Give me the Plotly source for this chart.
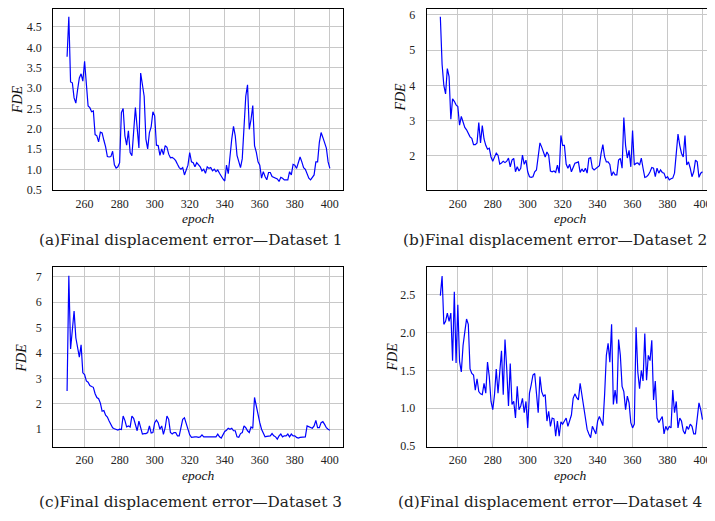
import plotly.graph_objects as go

# ---------------- data ----------------
epochs = list(range(250, 401))

fde_dataset1 = [
    3.77, 4.75, 3.15, 3.13, 2.76, 2.63, 2.96, 3.25, 3.35, 3.17,
    3.66, 3.05, 2.56, 2.52, 2.42, 2.44, 1.86, 1.83, 1.68, 1.92,
    1.90, 1.72, 1.56, 1.32, 1.31, 1.32, 1.45, 1.12, 1.04, 1.07,
    1.17, 2.40, 2.50, 1.83, 1.60, 1.95, 1.42, 1.34, 1.90, 2.52,
    2.03, 1.53, 3.37, 3.12, 2.80, 1.75, 1.51, 1.91, 2.05, 2.42,
    2.32, 1.60, 1.59, 1.35, 1.51, 1.37, 1.59, 1.55, 1.38, 1.29,
    1.30, 1.27, 1.22, 1.13, 1.05, 1.01, 1.05, 0.87, 0.99, 1.11,
    1.42, 1.19, 1.17, 1.07, 1.17, 1.11, 1.07, 0.97, 1.01, 0.91,
    1.07, 1.03, 1.05, 0.97, 1.01, 0.95, 0.99, 0.91, 0.83, 0.77,
    0.72, 1.11, 0.90, 1.43, 1.75, 2.06, 1.83, 1.35, 1.19, 1.05,
    1.27, 1.91, 2.80, 3.08, 1.99, 2.23, 2.57, 1.59, 1.43, 1.19,
    1.11, 0.79, 0.95, 0.83, 0.75, 0.93, 0.93, 0.83, 0.81, 0.79,
    0.77, 0.71, 0.81, 0.79, 0.75, 0.75, 0.75, 0.95, 0.87, 1.13,
    1.11, 1.03, 1.15, 1.31, 1.19, 1.05, 1.01, 0.91, 0.79, 0.75,
    0.81, 0.87, 1.19, 1.19, 1.67, 1.91, 1.79, 1.67, 1.53, 1.19,
    1.03,
]

fde_dataset2 = [
    5.95, 4.60, 4.00, 3.76, 4.48, 4.25, 3.04, 3.62, 3.55, 3.45,
    3.40, 2.87, 3.12, 2.97, 2.81, 2.74, 2.62, 2.54, 2.50, 2.32,
    2.32, 2.37, 2.95, 2.37, 2.86, 2.48, 2.30, 2.19, 2.22, 1.97,
    1.85, 1.97, 2.08, 2.02, 1.77, 1.80, 1.85, 1.81, 1.85, 1.94,
    1.69, 1.88, 1.93, 1.55, 1.69, 1.57, 1.65, 2.02, 1.76, 1.88,
    1.55, 1.41, 1.39, 1.41, 1.55, 1.60, 2.02, 2.37, 2.25, 2.09,
    1.97, 2.11, 2.02, 1.57, 1.55, 1.57, 1.53, 1.74, 1.51, 2.58,
    2.30, 2.30, 1.77, 1.65, 1.76, 1.55, 1.69, 1.79, 1.81, 1.83,
    1.53, 1.63, 1.55, 1.65, 1.51, 1.93, 1.95, 1.65, 1.60, 1.65,
    1.69, 1.72, 2.07, 2.32, 1.97, 1.83, 1.83, 1.76, 1.44, 1.55,
    1.46, 1.46, 1.88, 1.93, 1.65, 3.09, 2.30, 1.94, 2.16, 1.69,
    2.72, 1.74, 1.79, 1.80, 1.74, 1.94, 1.65, 1.39, 1.41, 1.46,
    1.55, 1.67, 1.65, 1.41, 1.65, 1.51, 1.60, 1.53, 1.51, 1.37,
    1.41, 1.32, 1.35, 1.37, 1.51, 2.02, 2.62, 2.30, 2.07, 1.97,
    2.58, 1.74, 1.83, 1.65, 1.41, 1.55, 1.88, 1.83, 1.39, 1.51,
    1.55,
]

fde_dataset3 = [
    2.51, 7.04, 4.16, 5.00, 5.65, 4.60, 4.15, 3.84, 4.32, 3.22,
    3.15, 2.90, 2.85, 2.72, 2.68, 2.65, 2.40, 2.25, 2.20, 2.03,
    1.71, 1.74, 1.55, 1.48, 1.32, 1.17, 1.06, 1.02, 1.00, 0.97,
    1.00, 0.99, 1.52, 1.35, 1.09, 1.13, 1.09, 1.52, 1.43, 1.19,
    0.94, 1.32, 1.06, 0.81, 0.83, 0.83, 0.87, 1.13, 0.85, 0.87,
    1.26, 1.36, 1.26, 1.00, 1.13, 0.80, 1.06, 1.52, 1.39, 0.87,
    0.81, 0.87, 0.87, 0.74, 0.74, 1.06, 1.39, 1.45, 1.19, 0.94,
    0.78, 0.68, 0.70, 0.70, 0.70, 0.68, 0.70, 0.78, 0.70, 0.70,
    0.68, 0.70, 0.70, 0.68, 0.70, 0.70, 0.81, 0.70, 0.65, 0.81,
    0.91, 0.96, 1.04, 1.00, 1.04, 0.94, 0.94, 0.70, 0.68, 0.83,
    0.87, 1.13, 1.06, 0.94, 0.87, 1.09, 1.04, 2.25, 1.90, 1.52,
    1.26, 1.00, 0.81, 0.70, 0.72, 0.74, 0.74, 0.83, 0.74, 0.70,
    0.61, 0.74, 0.81, 0.70, 0.74, 0.74, 0.81, 0.70, 0.81, 0.74,
    0.74, 0.68, 0.65, 0.68, 0.68, 0.68, 0.70, 1.13, 1.09, 1.06,
    1.04, 1.13, 1.35, 1.06, 1.06, 1.26, 1.30, 1.19, 1.06, 1.00,
    0.96,
]

fde_dataset4 = [
    2.49, 2.75, 2.11, 2.15, 2.26, 2.15, 2.26, 1.63, 2.54, 1.60,
    2.37, 1.62, 1.48, 1.83, 2.01, 2.18, 2.11, 1.52, 1.46, 1.44,
    1.24, 1.39, 1.22, 1.19, 1.18, 1.33, 1.20, 1.61, 1.42, 1.09,
    0.98, 1.18, 1.52, 1.20, 1.48, 1.76, 1.18, 1.91, 1.52, 1.03,
    1.59, 1.05, 1.09, 0.87, 1.29, 0.98, 1.03, 1.13, 0.94, 1.09,
    0.74, 1.20, 1.31, 1.44, 1.46, 1.20, 0.94, 1.42, 1.22, 1.16,
    1.18, 0.83, 0.96, 0.76, 0.87, 0.86, 0.63, 0.83, 0.63, 0.82,
    0.79, 0.83, 0.87, 0.76, 0.84, 0.91, 1.13, 1.19, 1.14, 1.11,
    1.33, 1.18, 1.00, 0.87, 0.72, 0.66, 0.61, 0.76, 0.72, 0.66,
    0.83, 0.89, 0.83, 0.77, 1.18, 1.70, 1.86, 1.61, 2.11, 1.05,
    1.24, 1.06, 1.91, 1.70, 1.29, 1.22, 0.98, 1.16, 1.07, 0.81,
    0.74, 0.79, 2.07, 1.48, 1.26, 1.50, 1.36, 1.99, 1.37, 1.70,
    1.63, 1.90, 1.11, 1.36, 0.87, 0.81, 0.85, 0.89, 0.66, 0.76,
    0.71, 0.76, 0.74, 1.24, 0.94, 1.09, 0.74, 0.87, 0.83, 0.70,
    0.66, 0.76, 0.72, 0.79, 0.76, 0.66, 0.66, 0.87, 1.07, 0.98,
    0.85,
]

x_ticks = [260, 280, 300, 320, 340, 360, 380, 400]
y_ticks_d1 = [0.5, 1.0, 1.5, 2.0, 2.5, 3.0, 3.5, 4.0, 4.5]
y_ticks_d2 = [2, 3, 4, 5, 6]
y_ticks_d3 = [1, 2, 3, 4, 5, 6, 7]
y_ticks_d4 = [0.5, 1.0, 1.5, 2.0, 2.5]

captions = [
    "(a)Final displacement error\u2014Dataset 1",
    "(b)Final displacement error\u2014Dataset 2",
    "(c)Final displacement error\u2014Dataset 3",
    "(d)Final displacement error\u2014Dataset 4",
]
x_title = "epoch"
y_title = "FDE"

for s in (fde_dataset1, fde_dataset2, fde_dataset3, fde_dataset4):
    if len(s) != len(epochs):
        raise ValueError("length mismatch %d" % len(s))

# ---------------- layout ----------------
# the page body adds an 8 px margin, so the figure is sized to fill the
# remaining window and every position below is given in window pixels.
OFF = 8
W, H = 715 - OFF, 521 - OFF
SERIF = "Liberation Serif, Times New Roman, serif"


def px_x(p):
    return min(1.0, max(0.0, (p - OFF) / W))


def px_y(p):
    return min(1.0, max(0.0, 1 - (p - OFF) / H))


panels = [
    dict(series=fde_dataset1, yticks=y_ticks_d1, fmt=".1f",
         xdom=(53.3, 343.3), ydom=(8, 192.3), xr=(242.1, 407.4), yr=(0.49, 4.94),
         ylab=(17, 99.5), xlab=(198, 221), cap=(191, 243)),
    dict(series=fde_dataset2, yticks=y_ticks_d2, fmt="d",
         xdom=(427.3, 715), ydom=(8, 192.3), xr=(242.2, 406.6), yr=(1.02, 6.17),
         ylab=(401.5, 97), xlab=(571, 221), cap=(556, 243)),
    dict(series=fde_dataset3, yticks=y_ticks_d3, fmt="d",
         xdom=(53.3, 343.3), ydom=(270, 452.7), xr=(242.1, 407.4), yr=(0.31, 7.39),
         ylab=(21, 362), xlab=(198, 482), cap=(191, 509)),
    dict(series=fde_dataset4, yticks=y_ticks_d4, fmt=".1f",
         xdom=(427.3, 715), ydom=(270, 452.7), xr=(242.2, 406.6), yr=(0.49, 2.87),
         ylab=(393.5, 361), xlab=(571, 482), cap=(551, 509)),
]

fig = go.Figure()
annotations = []
layout_axes = {}

for i, p in enumerate(panels, start=1):
    xa = "x" if i == 1 else "x%d" % i
    ya = "y" if i == 1 else "y%d" % i
    fig.add_trace(go.Scatter(
        x=epochs, y=p["series"], mode="lines",
        line=dict(color="#0000ff", width=1.2),
        xaxis=xa, yaxis=ya, showlegend=False, hoverinfo="x+y",
    ))
    common = dict(
        showline=True, linecolor="black", linewidth=1.3, mirror=True,
        showgrid=True, gridcolor="#c8c8c8", gridwidth=1,
        zeroline=False, ticks="",
        tickfont=dict(family=SERIF, size=12, color="#222222"),
    )
    layout_axes["xaxis" if i == 1 else "xaxis%d" % i] = dict(
        common,
        domain=[px_x(p["xdom"][0]), px_x(p["xdom"][1])],
        range=list(p["xr"]), tickvals=x_ticks,
        anchor=ya, ticklabelstandoff=2,
    )
    layout_axes["yaxis" if i == 1 else "yaxis%d" % i] = dict(
        common,
        domain=[px_y(p["ydom"][1]), px_y(p["ydom"][0])],
        range=list(p["yr"]), tickvals=p["yticks"], tickformat=p["fmt"],
        anchor=xa, ticklabelstandoff=8,
    )
    annotations.append(dict(
        text="<i>%s</i>" % y_title, xref="paper", yref="paper",
        x=px_x(p["ylab"][0]), y=px_y(p["ylab"][1]), textangle=-90,
        showarrow=False, xanchor="center", yanchor="middle",
        font=dict(family=SERIF, size=14, color="#111111"),
    ))
    annotations.append(dict(
        text="<i>%s</i>" % x_title, xref="paper", yref="paper",
        x=px_x(p["xlab"][0]), y=px_y(p["xlab"][1]),
        showarrow=False, xanchor="center", yanchor="middle",
        font=dict(family=SERIF, size=13.5, color="#111111"),
    ))
    annotations.append(dict(
        text=captions[i - 1], xref="paper", yref="paper",
        x=px_x(p["cap"][0]), y=px_y(p["cap"][1]),
        showarrow=False, xanchor="center", yanchor="middle",
        font=dict(family="DejaVu Serif, serif", size=15.3, color="#222222"),
    ))

fig.update_layout(
    width=W, height=H,
    margin=dict(l=0, r=0, t=0, b=0),
    paper_bgcolor="white", plot_bgcolor="white",
    font=dict(family=SERIF),
    annotations=annotations,
    **layout_axes,
)

fig.write_html("out.html")
